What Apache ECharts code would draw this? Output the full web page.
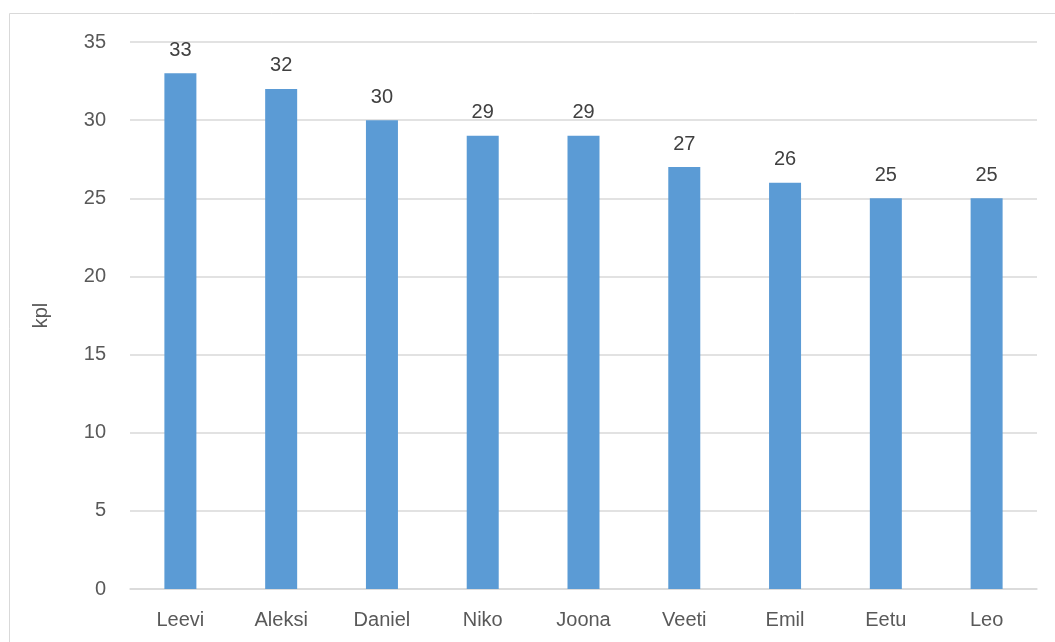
<!DOCTYPE html>
<html>
<head>
<meta charset="utf-8">
<script src="https://cdn.jsdelivr.net/npm/echarts@6/dist/echarts.min.js"></script>
<style>html,body{margin:0;padding:0;background:#fff;}#c{width:1055px;height:642px;}</style>
</head>
<body>
<div id="c"></div>
<script>
const categories = ['Leevi','Aleksi','Daniel','Niko','Joona','Veeti','Emil','Eetu','Leo'];
const values = [33,32,30,29,29,27,26,25,25];
const yAxisName = 'kpl';

const chart = echarts.init(document.getElementById('c'), null, {renderer:'canvas'});
const font = 'Liberation Sans';
chart.setOption({
  animation:false,
  graphic:[{type:'rect',shape:{x:9.5,y:13.5,width:1200,height:800},style:{fill:'none',stroke:'#D9D9D9',lineWidth:1},silent:true}],
  grid:{left:130,right:18,top:42,bottom:53,containLabel:false},
  xAxis:{type:'category',data:categories,
    axisLine:{lineStyle:{color:'#D9D9D9',width:1.5}},axisTick:{show:false},
    axisLabel:{color:'#595959',fontSize:20,fontFamily:font,margin:21}},
  yAxis:{type:'value',min:0,max:35,interval:5,
    name:yAxisName,nameLocation:'middle',nameGap:79,nameRotate:90,
    nameTextStyle:{color:'#595959',fontSize:20,fontFamily:font},
    axisLine:{show:false},axisTick:{show:false},
    splitLine:{lineStyle:{color:'#D9D9D9',width:1.5}},
    axisLabel:{color:'#595959',fontSize:20,fontFamily:font,margin:24}},
  series:[{type:'bar',data:values,barWidth:32,
    itemStyle:{color:'#5B9BD5'},
    label:{show:true,position:'top',distance:13,color:'#404040',fontSize:20,fontFamily:font}}]
});
</script>
</body>
</html>
